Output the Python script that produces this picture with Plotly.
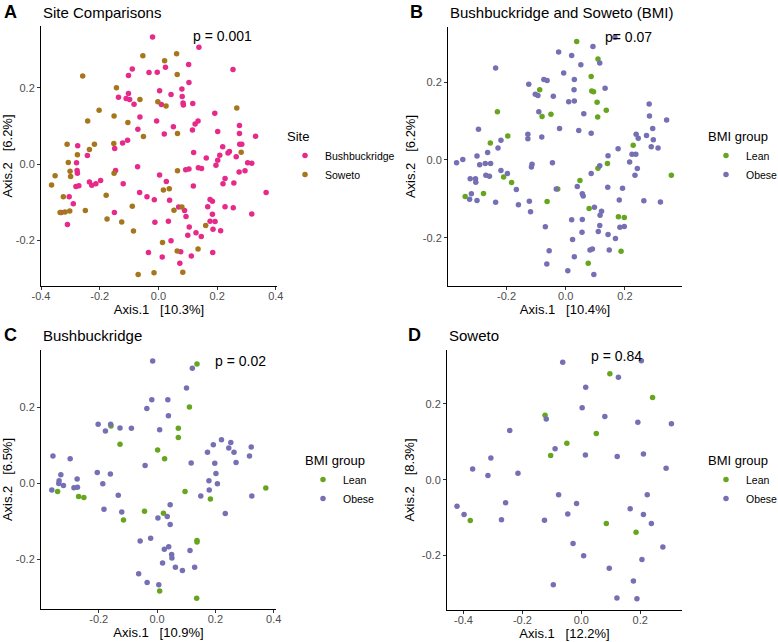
import plotly.graph_objects as go

# ---------------- data ----------------
# Panel A: Site comparisons
A_bush_x = [-0.020,0.138,0.103,0.254,-0.089,-0.032,-0.004,0.024,-0.102,0.104,
            0.004,0.043,0.080,-0.102,-0.136,-0.110,-0.098,-0.083,0.081,0.084,
            0.085,0.117,0.010,0.192,-0.063,-0.006,0.135,0.125,0.051,-0.070,
            0.116,0.020,0.202,0.276,0.276,0.331,-0.105,-0.122,-0.149,-0.275,
            0.219,0.277,0.284,0.242,0.237,0.120,0.163,0.209,-0.242,
            -0.279,-0.277,-0.276,-0.071,-0.146,0.093,0.104,0.136,0.147,0.196,
            0.202,0.265,0.304,0.318,0.275,0.295,0.004,0.027,0.227,0.257,
            0.119,0.220,-0.235,-0.227,-0.213,-0.197,-0.281,-0.271,-0.120,-0.064,
            -0.304,-0.039,-0.014,0.038,0.176,0.184,0.367,-0.290,0.168,0.227,
            0.255,0.069,0.089,-0.331,-0.150,0.318,0.184,0.094,-0.012,0.034,
            0.176,0.193,0.105,-0.310,0.186,0.212,0.128,0.146,0.100,0.043,
            -0.034,0.076,0.013,0.112,0.185,0.073]
A_bush_y = [0.333,0.306,0.261,0.248,0.249,0.240,0.241,0.254,0.232,0.214,
            0.192,0.182,0.197,0.185,0.175,0.172,0.169,0.157,0.177,0.160,
            0.155,0.159,0.156,0.133,0.123,0.113,0.113,0.105,0.098,0.091,
            0.089,0.079,0.085,0.101,0.080,0.073,0.062,0.055,0.041,0.048,
            0.045,0.052,0.052,0.033,0.029,0.030,0.016,0.023,0.022,
            0.003,-0.017,-0.024,-0.007,-0.017,-0.015,-0.013,-0.010,-0.012,-0.003,
            0.010,0.019,0.003,0.002,-0.021,-0.018,-0.029,-0.046,-0.038,-0.050,
            -0.058,-0.052,-0.047,-0.056,-0.052,-0.043,-0.059,-0.057,-0.052,-0.075,
            -0.086,-0.086,-0.094,-0.095,-0.093,-0.098,-0.075,-0.104,-0.112,-0.112,
            -0.115,-0.113,-0.122,-0.127,-0.127,-0.131,-0.132,-0.138,-0.153,-0.150,
            -0.150,-0.151,-0.165,-0.159,-0.171,-0.175,-0.180,-0.190,-0.187,-0.201,
            -0.232,-0.230,-0.244,-0.241,-0.232,-0.260]
A_sow_x = [-0.053,0.062,0.021,0.064,-0.258,-0.143,-0.063,-0.002,0.026,-0.202,
           0.267,-0.151,-0.241,-0.104,0.065,-0.051,-0.152,-0.311,-0.218,-0.235,
           0.282,-0.276,-0.307,-0.301,-0.299,0.065,-0.151,-0.352,-0.364,-0.178,
           -0.324,0.017,0.037,-0.089,0.053,0.080,-0.335,-0.318,-0.302,-0.175,
           -0.125,0.161,-0.085,0.014,0.135,0.064,0.083,-0.015,-0.069,-0.249]
A_sow_y = [0.284,0.289,0.271,0.235,0.231,0.200,0.169,0.163,0.152,0.141,
           0.147,0.126,0.113,0.109,0.080,0.072,0.054,0.052,0.052,0.038,
           0.031,0.024,0.004,-0.019,-0.033,-0.018,-0.024,-0.031,-0.055,-0.082,
           -0.086,-0.068,-0.065,-0.111,-0.121,-0.113,-0.127,-0.126,-0.123,-0.144,
           -0.152,-0.161,-0.176,-0.206,-0.223,-0.228,-0.284,-0.285,-0.290,-0.122]

# Panel B: both sites, BMI
B_lean_x = [0.037,0.109,0.086,0.088,0.094,-0.088,0.106,0.137,0.108,-0.080,
            -0.050,-0.231,-0.196,-0.255,0.228,0.141,0.109,0.357,0.048,-0.210,
            -0.183,-0.340,-0.278,-0.027,-0.063,0.079,0.178,0.198,0.187,0.076]
B_lean_y = [0.305,0.260,0.215,0.178,0.176,0.181,0.149,0.128,0.111,0.112,
            0.118,0.124,0.062,0.044,0.038,-0.009,-0.021,-0.039,-0.053,-0.044,
            -0.058,-0.094,-0.086,-0.075,-0.107,-0.125,-0.146,-0.148,-0.235,-0.266]
B_obese_x = [0.166,0.092,-0.024,0.020,0.115,0.051,-0.237,-0.007,0.029,-0.074,
             -0.063,-0.125,0.133,0.028,-0.103,-0.094,-0.042,0.010,0.029,-0.091,
             0.061,0.282,0.341,0.283,-0.021,0.044,0.086,-0.295,-0.128,-0.128,
             -0.081,0.294,0.238,0.245,0.273,0.296,0.289,0.312,-0.219,-0.229,
             -0.264,-0.300,0.177,0.143,0.224,0.237,-0.348,-0.369,-0.045,-0.114,
             -0.116,-0.291,-0.254,-0.272,0.115,0.216,0.242,-0.219,-0.197,-0.270,
             -0.258,-0.323,-0.305,-0.304,0.234,0.086,0.039,0.056,0.059,0.142,
             0.192,-0.032,-0.167,-0.319,-0.325,-0.300,-0.237,-0.160,-0.123,0.181,
             0.264,0.320,-0.119,0.097,0.121,0.116,0.020,0.056,0.198,0.183,
             0.115,-0.069,0.110,0.055,0.143,0.168,0.023,-0.056,0.082,0.090,
             0.147,0.029,-0.064,0.007,0.095]
B_obese_y = [0.316,0.292,0.278,0.269,0.250,0.245,0.237,0.224,0.207,0.207,
             0.205,0.195,0.185,0.181,0.169,0.166,0.164,0.150,0.152,0.124,
             0.119,0.144,0.103,0.113,0.081,0.076,0.069,0.079,0.066,0.055,
             0.059,0.081,0.066,0.056,0.063,0.052,0.034,0.031,0.051,0.031,
             0.019,0.010,0.029,0.011,0.015,0.015,0.001,-0.007,-0.007,-0.011,
             -0.018,-0.012,-0.009,-0.009,-0.015,-0.005,-0.022,-0.027,-0.035,-0.039,
             -0.042,-0.048,-0.048,-0.057,-0.039,-0.035,-0.068,-0.087,-0.093,-0.070,
             -0.073,-0.075,-0.076,-0.087,-0.101,-0.104,-0.109,-0.115,-0.106,-0.103,
             -0.105,-0.108,-0.133,-0.122,-0.132,-0.142,-0.154,-0.153,-0.171,-0.173,
             -0.169,-0.172,-0.184,-0.186,-0.192,-0.202,-0.205,-0.234,-0.232,-0.229,
             -0.232,-0.249,-0.268,-0.285,-0.295]

# Panel C: Bushbuckridge, BMI
C_lean_x = [0.137,0.111,0.073,0.073,-0.127,0.002,0.026,-0.158,0.373,0.096,
            0.183,-0.341,-0.269,-0.251,-0.043,0.022,-0.115,0.137,0.137,0.009,0.136]
C_lean_y = [0.313,0.200,0.144,0.120,0.102,0.087,0.064,0.150,-0.013,-0.022,
            -0.042,-0.022,-0.035,-0.038,-0.074,-0.079,-0.097,-0.151,-0.155,-0.284,-0.303]
C_obese_x = [-0.015,0.121,0.101,-0.018,0.037,-0.035,0.039,-0.202,-0.159,-0.127,
             -0.088,-0.177,0.009,0.221,0.193,0.253,0.246,0.264,0.173,0.323,
             0.317,0.271,0.117,0.198,-0.041,-0.357,-0.298,-0.330,0.202,-0.336,
             -0.337,-0.321,-0.274,-0.285,-0.273,-0.361,-0.205,-0.186,-0.160,0.178,
             0.179,0.207,0.150,0.325,-0.133,0.045,-0.182,-0.121,0.003,0.035,
             0.045,0.234,0.050,0.051,-0.058,-0.022,0.040,0.025,0.113,0.019,
             0.063,0.087,0.129,-0.063,-0.034,0.006]
C_obese_y = [0.321,0.302,0.250,0.219,0.219,0.196,0.177,0.155,0.155,0.145,
             0.144,0.137,0.140,0.114,0.101,0.107,0.092,0.081,0.081,0.095,
             0.071,0.054,0.053,0.052,0.046,0.071,0.064,0.022,0.025,0.006,
             -0.001,-0.006,0.011,-0.012,-0.011,-0.018,0.028,-0.002,0.024,0.006,
             -0.018,-0.002,-0.034,-0.034,-0.032,-0.057,-0.069,-0.076,-0.092,-0.088,
             -0.109,-0.080,-0.188,-0.197,-0.152,-0.145,-0.167,-0.174,-0.177,-0.210,
             -0.221,-0.230,-0.221,-0.238,-0.261,-0.267]

# Panel D: Soweto, BMI
D_lean_x = [0.097,0.242,-0.123,0.051,-0.049,-0.104,-0.377,0.085,0.186]
D_lean_y = [0.280,0.217,0.170,0.122,0.096,0.064,-0.108,-0.116,-0.139]
D_obese_x = [-0.063,0.204,0.126,0.015,0.003,0.080,0.192,0.306,-0.119,-0.243,
             -0.089,0.014,0.122,0.211,-0.307,-0.369,-0.317,-0.215,0.288,-0.077,
             -0.016,0.224,-0.257,-0.422,-0.398,-0.271,-0.125,-0.046,0.166,0.211,
             0.238,0.277,-0.028,0.008,0.206,0.095,-0.095,0.177,0.121,0.189]
D_obese_y = [0.310,0.314,0.271,0.244,0.190,0.167,0.152,0.148,0.160,0.130,
             0.082,0.065,0.061,0.068,0.057,0.028,0.011,0.017,0.030,-0.040,
             -0.063,-0.040,-0.061,-0.070,-0.092,-0.106,-0.107,-0.091,-0.077,-0.092,
             -0.116,-0.178,-0.169,-0.201,-0.211,-0.234,-0.278,-0.268,-0.313,-0.315]

titles = ["Site Comparisons", "Bushbuckridge and Soweto (BMI)", "Bushbuckridge", "Soweto"]
tags = ["A", "B", "C", "D"]
p_labels = ["p = 0.001", "p= 0.07", "p = 0.02", "p = 0.84"]
x_titles = ["Axis.1   [10.3%]", "Axis.1   [10.4%]", "Axis.1   [10.9%]", "Axis.1   [12.2%]"]
y_titles = ["Axis.2   [6.2%]", "Axis.2   [6.2%]", "Axis.2   [6.5%]", "Axis.2   [8.3%]"]
x_ticks = [[-0.4, -0.2, 0.0, 0.2, 0.4], [-0.4, -0.2, 0.0, 0.2], [-0.2, 0.0, 0.2, 0.4], [-0.4, -0.2, 0.0, 0.2]]
y_ticks = [-0.2, 0.0, 0.2]

# ---------------- styling / layout ----------------
W, H = 778, 642
FONT = "Liberation Sans, Arial, Helvetica, sans-serif"
PINK, BROWN, GREEN, PURPLE = "#E7298A", "#A6761D", "#66A61E", "#7570B3"

# plot-area pixel boxes (left, right, top, bottom)
boxes = [(41, 277, 26, 286), (448, 682, 27, 286), (41, 276, 350, 609), (447, 682, 350, 610)]
ranges_x = [[-0.400, 0.404], [-0.398, 0.393], [-0.398, 0.408], [-0.456, 0.342]]
ranges_y = [[-0.320, 0.362], [-0.3245, 0.3425], [-0.331, 0.350], [-0.3445, 0.3427]]
p_pos = [(0.217, 0.335), (0.2135, 0.318), (0.287, 0.321), (0.120, 0.327)]
title_y = [12, 12, 335, 335]
tag_x = [2, 408, 2, 406]
legend_pos = [(285, 124), (706, 124), (303, 448), (706, 448)]

fig = go.Figure()

def nbsp(s):
    return s.replace(" ", "\u00a0")

panels = [
    [("Bushbuckridge", A_bush_x, A_bush_y, PINK), ("Soweto", A_sow_x, A_sow_y, BROWN)],
    [("Lean", B_lean_x, B_lean_y, GREEN), ("Obese", B_obese_x, B_obese_y, PURPLE)],
    [("Lean", C_lean_x, C_lean_y, GREEN), ("Obese", C_obese_x, C_obese_y, PURPLE)],
    [("Lean", D_lean_x, D_lean_y, GREEN), ("Obese", D_obese_x, D_obese_y, PURPLE)],
]
legend_titles = ["Site", "BMI group", "BMI group", "BMI group"]

annotations = []
for i, series in enumerate(panels):
    n = "" if i == 0 else str(i + 1)
    lg = "legend" if i == 0 else "legend" + str(i + 1)
    for name, xs, ys, col in series:
        fig.add_trace(go.Scatter(
            x=xs, y=ys, mode="markers", name=name,
            marker=dict(color=col, size=5.5, line=dict(width=0)),
            xaxis="x" + n, yaxis="y" + n, legend=lg, hoverinfo="skip"))
    l, r, t, b = boxes[i]
    fig.update_layout(**{
        "xaxis" + n: dict(
            domain=[l / W, r / W], range=ranges_x[i], anchor="y" + n, automargin=False,
            showline=True, linecolor="black", linewidth=1, mirror=False,
            showgrid=False, zeroline=False, ticks="outside", ticklen=3,
            tickcolor="#333333", tickwidth=1, ticklabelstandoff=-3,
            tickvals=x_ticks[i], ticktext=[f"{v:.1f}" for v in x_ticks[i]],
            tickfont=dict(size=11, color="#4D4D4D", family=FONT),
            title=dict(text=nbsp(x_titles[i]), font=dict(size=13, color="black", family=FONT), standoff=0),
        ),
        "yaxis" + n: dict(
            domain=[1 - b / H, 1 - t / H], range=ranges_y[i], anchor="x" + n, automargin=False,
            showline=True, linecolor="black", linewidth=1, mirror=False,
            showgrid=False, zeroline=False, ticks="outside", ticklen=3,
            tickcolor="#333333", tickwidth=1,
            tickvals=y_ticks, ticktext=[f"{v:.1f}" for v in y_ticks],
            tickfont=dict(size=11, color="#4D4D4D", family=FONT),
            title=dict(text=nbsp(y_titles[i]), font=dict(size=13, color="black", family=FONT), standoff=4),
        ),
        lg: dict(
            title=dict(text=legend_titles[i], font=dict(size=13, color="black", family=FONT)),
            font=dict(size=10.5, color="black", family=FONT),
            x=legend_pos[i][0] / W, y=1 - legend_pos[i][1] / H,
            xanchor="left", yanchor="top", bgcolor="rgba(0,0,0,0)",
            tracegroupgap=0, itemwidth=30,
        ),
    })
    # panel tag and title
    annotations.append(dict(text=f"<b>{tags[i]}</b>", x=tag_x[i] / W, y=1 - title_y[i] / H,
                            xref="paper", yref="paper", xanchor="left", yanchor="middle",
                            showarrow=False, font=dict(size=18, color="black", family=FONT)))
    annotations.append(dict(text=titles[i], x=l / W, y=1 - title_y[i] / H,
                            xref="paper", yref="paper", xanchor="left", yanchor="middle",
                            showarrow=False, font=dict(size=15, color="black", family=FONT)))
    annotations.append(dict(text=p_labels[i], x=p_pos[i][0], y=p_pos[i][1],
                            xref="x" + n, yref="y" + n, xanchor="center", yanchor="middle",
                            showarrow=False, font=dict(size=14, color="black", family=FONT)))

fig.update_layout(
    width=W, height=H, margin=dict(l=0, r=0, t=0, b=0, autoexpand=False),
    paper_bgcolor="white", plot_bgcolor="white",
    font=dict(family=FONT, color="black"),
    annotations=annotations, showlegend=True,
)

fig.write_html("out.html", config={"displayModeBar": False},
               post_script="document.body.style.margin='0';document.body.style.padding='0';")
